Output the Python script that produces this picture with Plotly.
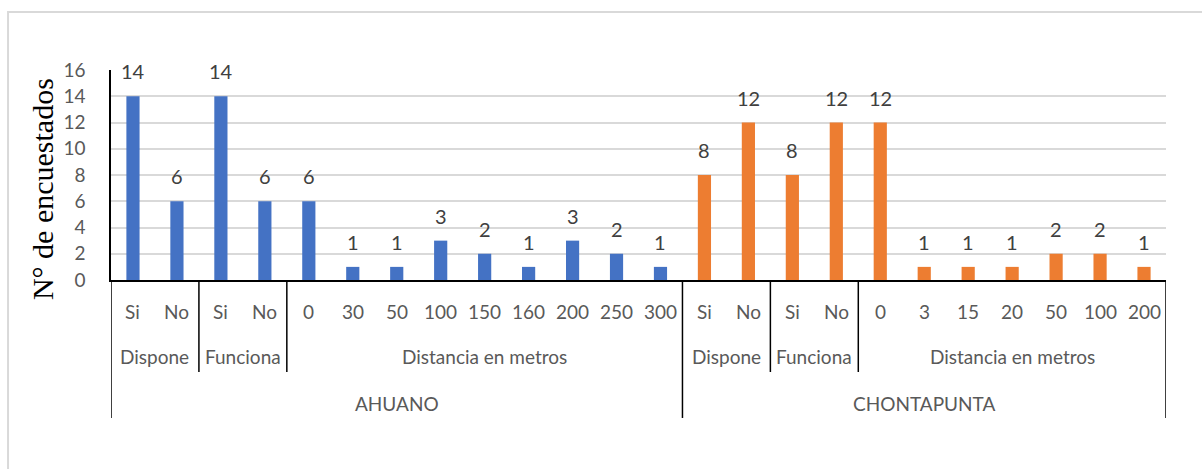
import plotly.graph_objects as go

# Survey counts per community, grouped by question
communities = ["AHUANO", "CHONTAPUNTA"]

ahuano_labels = ["Si", "No", "Si", "No", "0", "30", "50", "100", "150", "160", "200", "250", "300"]
ahuano_groups = ["Dispone", "Dispone", "Funciona", "Funciona"] + ["Distancia en metros"] * 9
ahuano_values = [14, 6, 14, 6, 6, 1, 1, 3, 2, 1, 3, 2, 1]

chonta_labels = ["Si", "No", "Si", "No", "0", "3", "15", "20", "50", "100", "200"]
chonta_groups = ["Dispone", "Dispone", "Funciona", "Funciona"] + ["Distancia en metros"] * 7
chonta_values = [8, 12, 8, 12, 12, 1, 1, 1, 2, 2, 1]

y_ticks = [0, 2, 4, 6, 8, 10, 12, 14, 16]

colors = ["#4472C4", "#ED7D31"]
label_font = dict(family="Lato, Carlito, Liberation Sans, sans-serif", size=19, color="#595959")
value_font = dict(family="Lato, Carlito, Liberation Sans, sans-serif", size=20, color="#404040")

series = [
    (communities[0], ahuano_labels, ahuano_groups, ahuano_values),
    (communities[1], chonta_labels, chonta_groups, chonta_values),
]

fig = go.Figure()
annotations = []
shapes = []

# paper-y positions of the three category rows and separator depths
ROW1, ROW2, ROW3 = -0.148, -0.362, -0.586
INNER_BOTTOM, OUTER_BOTTOM = -0.438, -0.657


def centered(**kw):
    return dict(showarrow=False, xanchor="center", yanchor="middle", **kw)


start = 0
for (name, labels, groups, values), color in zip(series, colors):
    xs = list(range(start, start + len(labels)))
    fig.add_trace(go.Bar(
        x=xs, y=values, width=0.3, marker=dict(color=color, line=dict(width=0)),
        name=name, showlegend=False, hoverinfo="y",
    ))
    for x, lab, v in zip(xs, labels, values):
        annotations.append(dict(x=x, y=v, xref="x", yref="y", text=str(v), showarrow=False,
                                xanchor="center", yanchor="bottom", yshift=11, font=value_font))
        annotations.append(centered(x=x, y=ROW1, xref="x", yref="paper", text=lab, font=label_font))
    # second level: contiguous runs of the same group
    i = 0
    while i < len(groups):
        j = i
        while j + 1 < len(groups) and groups[j + 1] == groups[i]:
            j += 1
        annotations.append(centered(x=(xs[i] + xs[j]) / 2, y=ROW2, xref="x", yref="paper",
                                    text=groups[i], font=label_font))
        if j + 1 < len(groups):
            shapes.append(dict(type="line", xref="x", yref="paper", x0=xs[j] + 0.5, x1=xs[j] + 0.5,
                               y0=0, y1=INNER_BOTTOM, line=dict(color="black", width=1.5)))
        i = j + 1
    # third level: community name
    annotations.append(centered(x=(xs[0] + xs[-1]) / 2, y=ROW3, xref="x", yref="paper",
                                text=name, font=label_font))
    shapes.append(dict(type="line", xref="x", yref="paper", x0=xs[0] - 0.5, x1=xs[0] - 0.5,
                       y0=0, y1=OUTER_BOTTOM, line=dict(color="black", width=1.5)))
    start += len(labels)

shapes.append(dict(type="line", xref="x", yref="paper", x0=start - 0.5, x1=start - 0.5,
                   y0=0, y1=OUTER_BOTTOM, line=dict(color="black", width=1.5)))

# chart area frame
shapes.append(dict(type="rect", xref="paper", yref="paper", x0=-0.0976, x1=1.2, y0=-1.2, y1=1.276,
                   line=dict(color="#D9D9D9", width=2), layer="below"))

# y-axis title
annotations.append(centered(x=-0.065, y=0.435, xref="paper", yref="paper", text="N° de encuestados",
                            textangle=-90,
                            font=dict(family="Liberation Serif, Times New Roman, serif", size=30, color="black")))

fig.update_layout(
    width=1202, height=469,
    margin=dict(l=111, r=36, t=70, b=189),
    paper_bgcolor="white", plot_bgcolor="white",
    bargap=0.7,
    annotations=annotations, shapes=shapes,
    xaxis=dict(range=[-0.5, start - 0.5], showticklabels=False, showgrid=False, zeroline=False,
               showline=True, linecolor="black", linewidth=1.5, ticks=""),
    yaxis=dict(range=[0, 16], tickvals=y_ticks, showgrid=True, gridcolor="#D9D9D9", gridwidth=1.5,
               zeroline=False, showline=True, linecolor="black", linewidth=1.5,
               ticks="", ticklabelstandoff=20, tickfont=label_font),
)

fig.write_html("out.html")
